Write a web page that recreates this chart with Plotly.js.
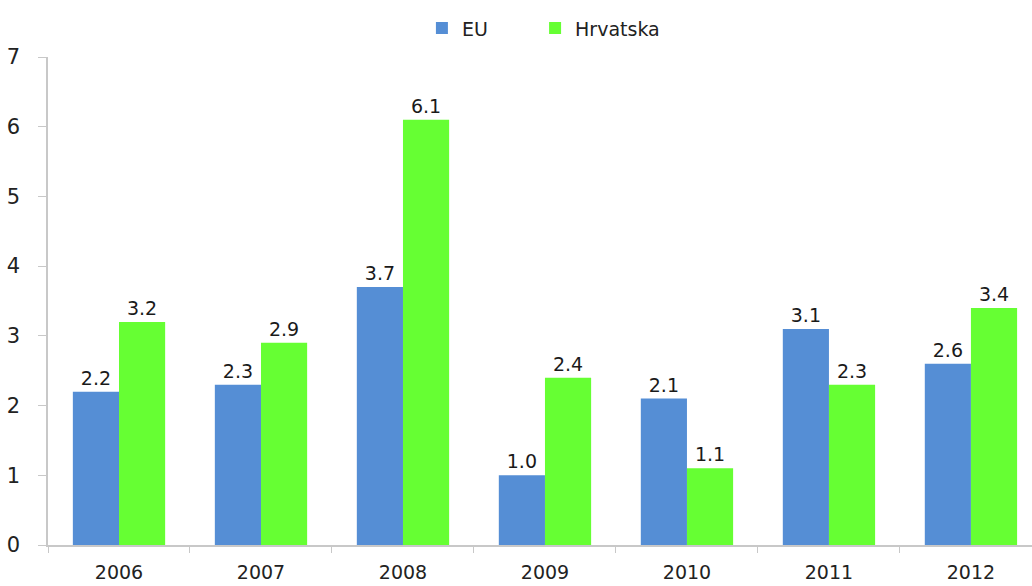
<!DOCTYPE html>
<html>
<head>
<meta charset="utf-8">
<script src="https://cdn.plot.ly/plotly-3.0.1.min.js"></script>
<style>
  html, body { margin: 0; padding: 0; background: #fff; }
  #chart { width: 1032px; height: 586px; }
</style>
</head>
<body>
<div id="chart"></div>
<script>
// Years and values
const years = ["2006", "2007", "2008", "2009", "2010", "2011", "2012"];
const euValues = [2.2, 2.3, 3.7, 1.0, 2.1, 3.1, 2.6];
const hrValues = [3.2, 2.9, 6.1, 2.4, 1.1, 2.3, 3.4];

const labelFont = { family: "DejaVu Sans", size: 19, color: "#1a1a1a" };
const legendFont = { family: "DejaVu Sans", size: 19, color: "#222" };

const euTrace = {
    type: "bar",
    name: "EU",
    legend: "legend",
    x: years,
    y: euValues,
    marker: { color: "#558ed5" },
    texttemplate: "%{y:.1f}",
    textposition: "outside",
    textfont: labelFont,
    cliponaxis: false
};

const hrTrace = {
    type: "bar",
    name: "Hrvatska",
    legend: "legend2",
    x: years,
    y: hrValues,
    marker: { color: "#66ff33" },
    texttemplate: "%{y:.1f}",
    textposition: "outside",
    textfont: labelFont,
    cliponaxis: false
};

Plotly.newPlot("chart", [euTrace, hrTrace], {
    width: 1032,
    height: 586,
    margin: { l: 48, r: 0, t: 57, b: 41 },
    barmode: "group",
    bargap: 0.35,
    bargroupgap: 0,
    plot_bgcolor: "#fff",
    paper_bgcolor: "#fff",
    font: { family: "DejaVu Sans", size: 18, color: "#222" },
    showlegend: true,

    // one legend per series so the two entries sit where the reference has them
    legend: {
        orientation: "h",
        x: 0.38,
        xanchor: "left",
        y: 1.02,
        yanchor: "bottom",
        font: legendFont,
        itemwidth: 30
    },
    legend2: {
        orientation: "h",
        x: 0.495,
        xanchor: "left",
        y: 1.02,
        yanchor: "bottom",
        font: legendFont,
        itemwidth: 30
    },

    // Axis formatting:
    xaxis: {
        type: "category",
        range: [-0.5, 6.43],
        showgrid: false,
        showline: true,
        linecolor: "#c8c8c8",
        linewidth: 1.5,
        ticks: "outside",
        tickson: "boundaries",
        ticklen: 6,
        tickcolor: "#c8c8c8",
        ticklabelstandoff: 9,
        tickfont: { family: "DejaVu Sans", size: 19, color: "#222" }
    },

    yaxis: {
        range: [0, 7],
        dtick: 1,
        showgrid: false,
        zeroline: false,
        showline: true,
        linecolor: "#c8c8c8",
        linewidth: 1.5,
        ticks: "outside",
        ticklen: 8,
        tickcolor: "#c8c8c8",
        ticklabelstandoff: 14,
        tickfont: { family: "DejaVu Sans", size: 21, color: "#222" }
    }
}, { displayModeBar: false });
</script>
</body>
</html>
